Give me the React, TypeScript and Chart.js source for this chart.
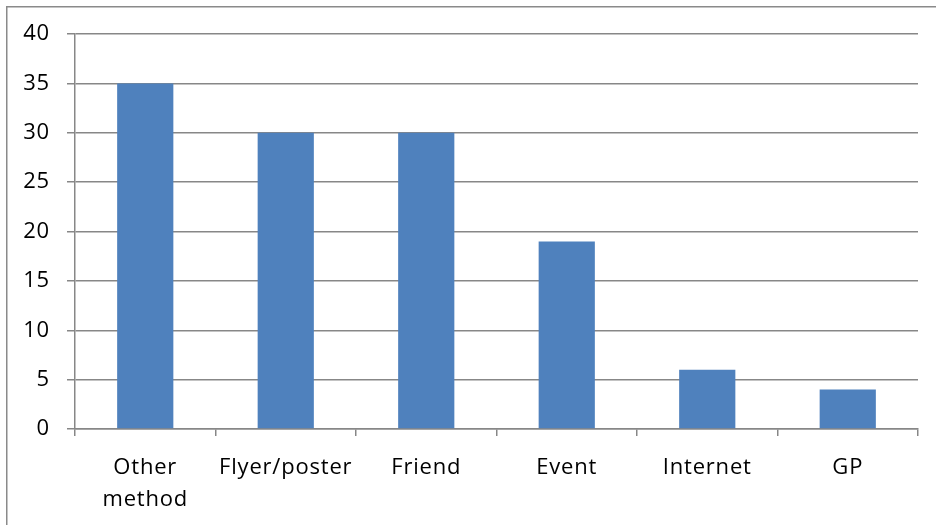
import React, { useEffect, useRef } from "react";
import { Chart, registerables } from "chart.js";

Chart.register(...registerables);

const categories: (string | string[])[] = [["Other", "method"], "Flyer/poster", "Friend", "Event", "Internet", "GP"];
const counts: number[] = [35, 30, 30, 19, 6, 4];
const yMin = 0;
const yMax = 40;
const yStep = 5;

const FONT = "'Open Sans', 'DejaVu Sans', sans-serif";
const GRID = "#878787";

// Frame around the whole chart, plus slightly spaced text
const framePlugin = {
  id: "frame",
  beforeDraw(chart: any) {
    const ctx = chart.ctx;
    ctx.save();
    ctx.strokeStyle = "#8a8a8a";
    ctx.lineWidth = 1.5;
    ctx.strokeRect(6.75, 6.75, 1200, 1200);
    ctx.restore();
    (ctx as any).letterSpacing = "0.8px";
  },
};

export default function App() {
  const ref = useRef<HTMLCanvasElement | null>(null);

  useEffect(() => {
    if (!ref.current) return;
    const chart = new Chart(ref.current, {
      type: "bar",
      data: {
        labels: categories,
        datasets: [
          {
            data: counts,
            backgroundColor: "#4f81bd",
            borderWidth: 0,
            categoryPercentage: 0.8,
            barPercentage: 0.5,
          },
        ],
      },
      options: {
        animation: false,
        responsive: false,
        devicePixelRatio: 1,
        layout: { padding: { top: 34, right: 18, left: 0, bottom: 0 } },
        plugins: { legend: { display: false }, tooltip: { enabled: false } },
        scales: {
          x: {
            afterFit: (s: any) => {
              s.height = 96;
            },
            grid: {
              offset: true,
              drawOnChartArea: false,
              drawTicks: true,
              tickLength: 7,
              color: GRID,
              lineWidth: 1.5,
            },
            border: { display: true, color: GRID, width: 1.5 },
            ticks: {
              color: "#000",
              padding: 16,
              maxRotation: 0,
              autoSkip: false,
              font: { family: FONT, size: 22, lineHeight: 1.45 },
            },
          },
          y: {
            min: yMin,
            max: yMax,
            afterFit: (s: any) => {
              s.width = 75;
            },
            grid: {
              drawTicks: true,
              tickLength: 8,
              color: GRID,
              lineWidth: 1.5,
            },
            border: { display: true, color: GRID, width: 1.5 },
            ticks: {
              stepSize: yStep,
              color: "#000",
              padding: 17,
              font: { family: FONT, size: 22 },
            },
          },
        },
      },
      plugins: [framePlugin],
    });
    return () => chart.destroy();
  }, []);

  return (
    <div style={{ position: "absolute", left: 0, top: 0, width: 936, height: 525, background: "#fff" }}>
      <canvas ref={ref} width={936} height={525} style={{ display: "block" }} />
    </div>
  );
}
